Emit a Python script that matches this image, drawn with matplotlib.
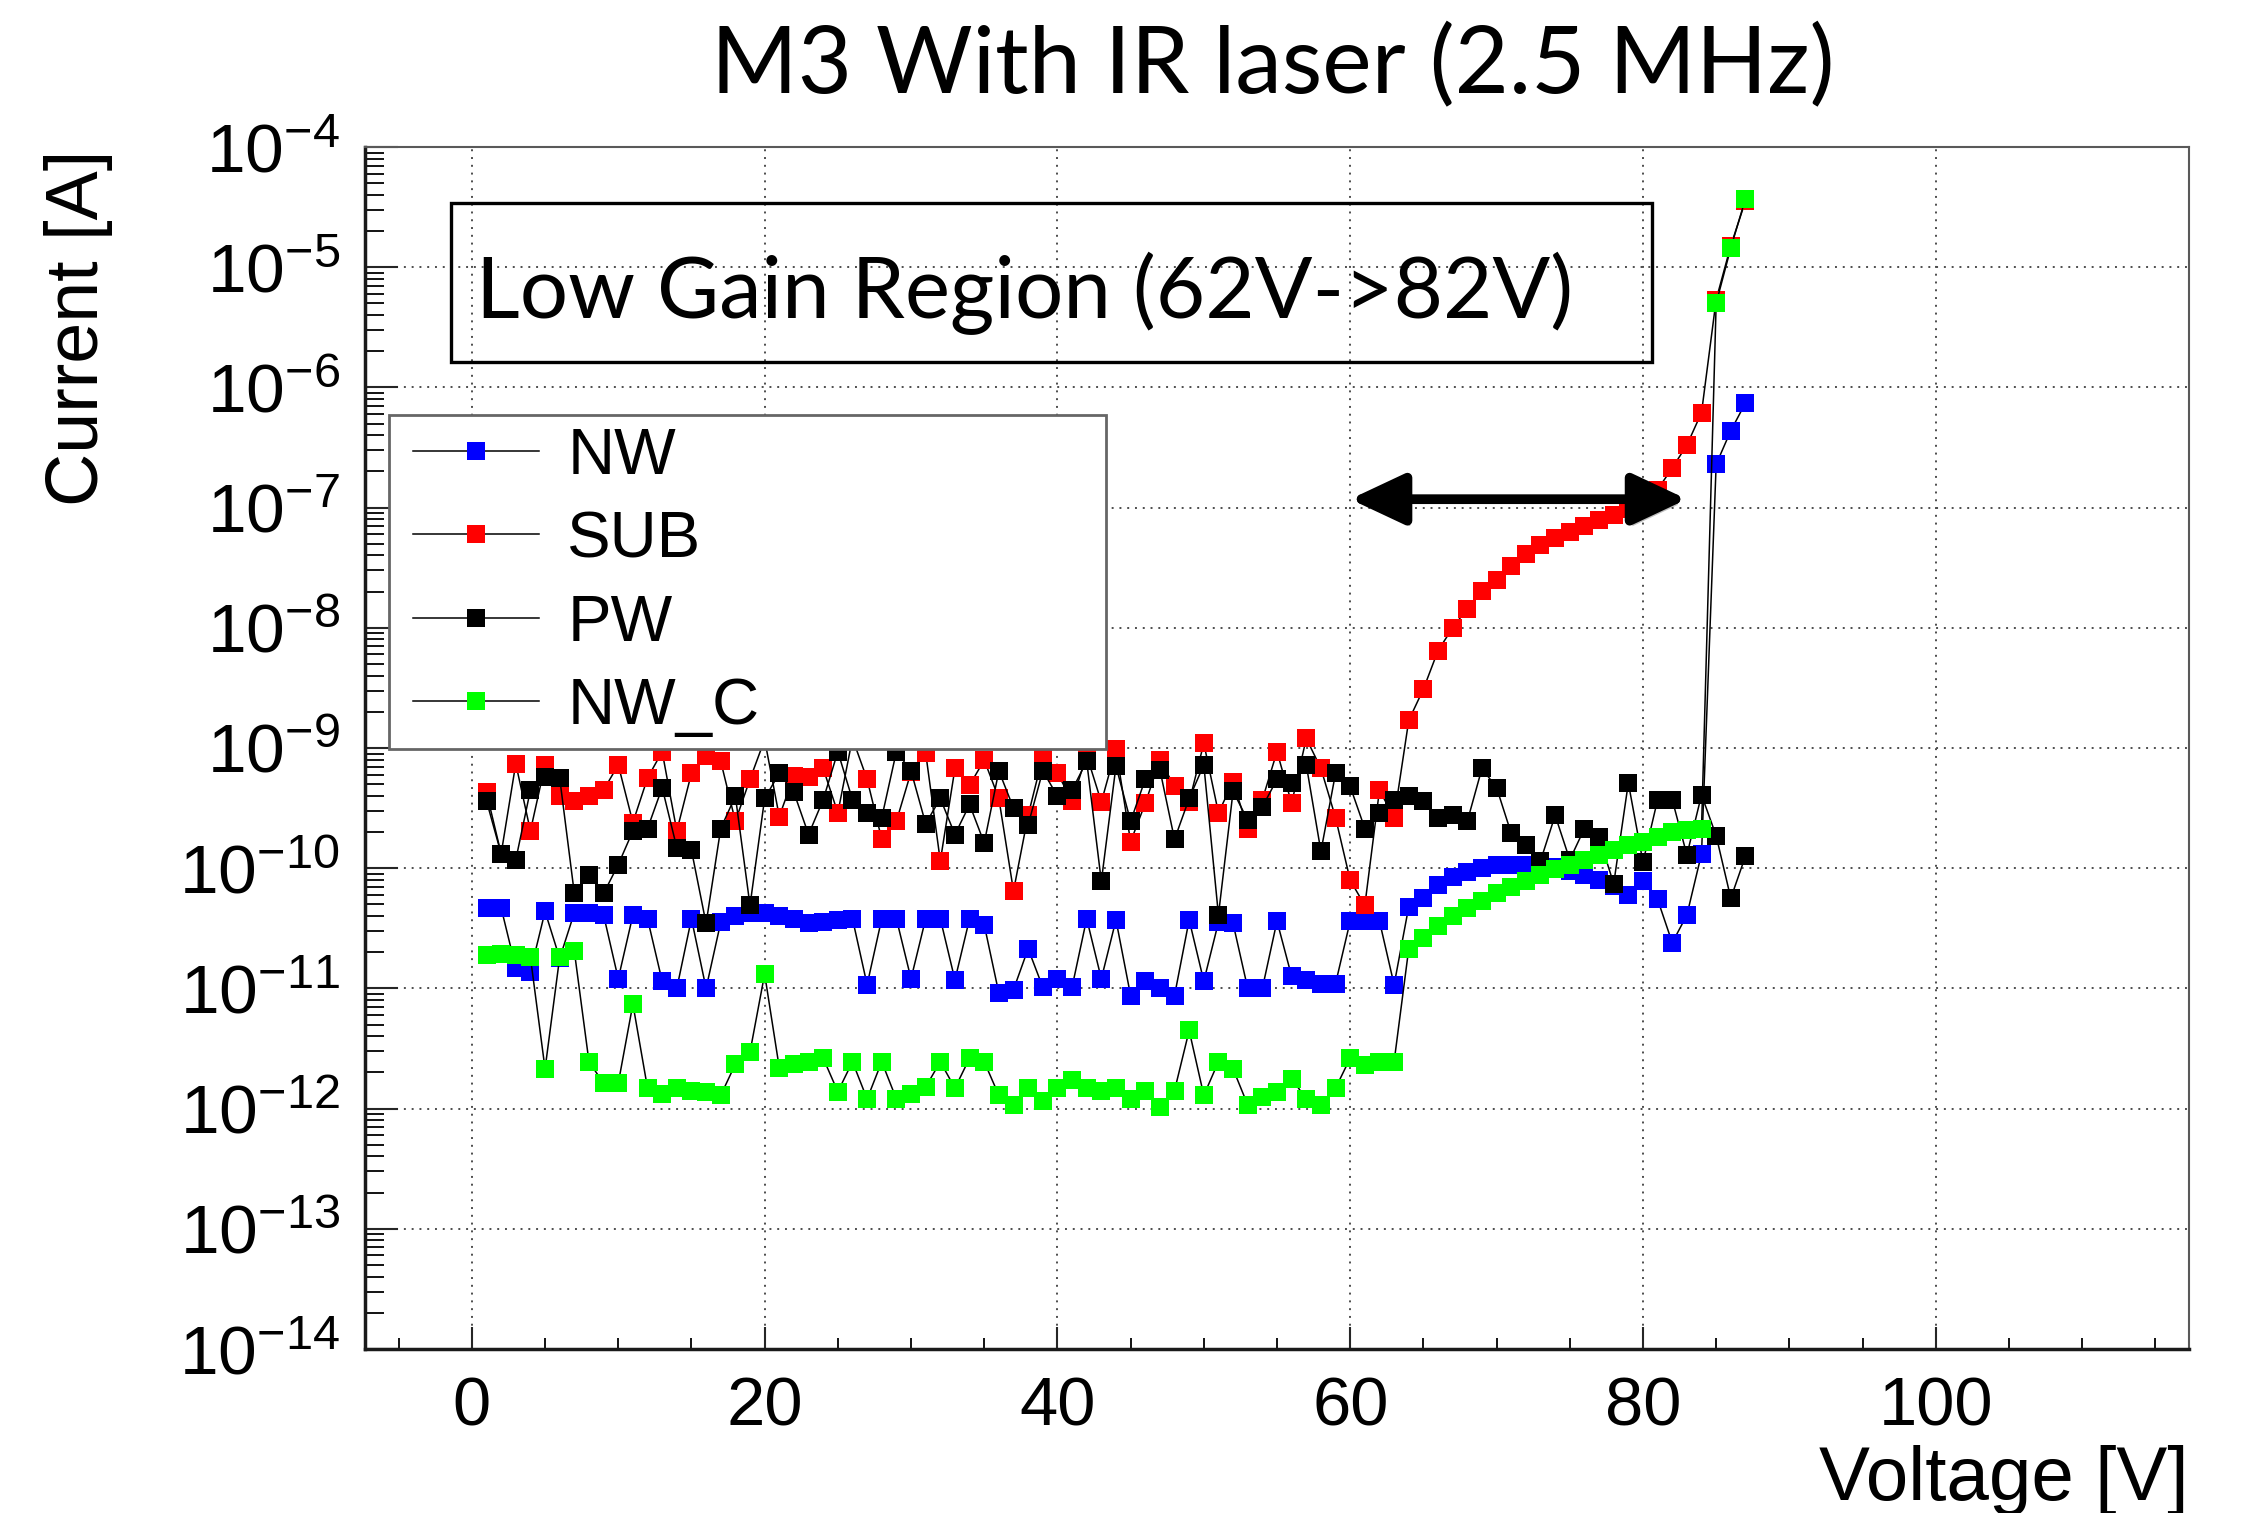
import numpy as np
import matplotlib
matplotlib.use("Agg")
import matplotlib.pyplot as plt
from matplotlib.ticker import LogLocator, FixedLocator, NullFormatter
from matplotlib.patches import Rectangle, FancyArrowPatch
from matplotlib.legend_handler import HandlerLine2D
import matplotlib.patheffects as pe

# bias voltage steps [V]
voltage = list(range(1, 88))

# log10 of current [A] for each channel
nw_log = [
    -10.33, -10.33, -10.83, -10.86, -10.36, -10.75, -10.37, -10.37, -10.39, -10.92,
    -10.39, -10.42, -10.94, -11.00, -10.42, -11.00, -10.45, -10.40, -10.37, -10.37,
    -10.40, -10.42, -10.46, -10.45, -10.43, -10.42, -10.97, -10.42, -10.42, -10.92,
    -10.42, -10.42, -10.93, -10.42, -10.47, -11.04, -11.01, -10.67, -10.99, -10.92,
    -10.99, -10.42, -10.92, -10.43, -11.06, -10.94, -11.00, -11.06, -10.43, -10.94,
    -10.45, -10.46, -11.00, -11.00, -10.44, -10.90, -10.93, -10.96, -10.96, -10.44,
    -10.44, -10.44, -10.97, -10.32, -10.25, -10.14, -10.07, -10.03, -10.00, -9.97,
    -9.97, -9.97, -9.96, -9.99, -10.02, -10.06, -10.10, -10.15, -10.22, -10.11,
    -10.26, -10.62, -10.39, -9.88, -6.64, -6.36, -6.13,
]
sub_log = [
    -9.37, -9.88, -9.13, -9.69, -9.14, -9.40, -9.44, -9.40, -9.35, -9.14,
    -9.62, -9.25, -9.03, -9.69, -9.21, -9.07, -9.11, -9.61, -9.26, -8.93,
    -9.57, -9.23, -9.24, -9.17, -9.54, -8.92, -9.26, -9.76, -9.61, -9.20,
    -9.04, -9.94, -9.17, -9.31, -9.10, -9.42, -10.19, -9.56, -9.07, -9.21,
    -9.44, -9.06, -9.45, -9.01, -9.78, -9.46, -9.10, -9.32, -9.45, -8.96,
    -9.54, -9.28, -9.67, -9.43, -9.03, -9.46, -8.92, -9.17, -9.58, -10.10,
    -10.31, -9.35, -9.58, -8.77, -8.51, -8.19, -8.00, -7.84, -7.69, -7.60,
    -7.49, -7.39, -7.31, -7.25, -7.20, -7.15, -7.10, -7.06, -7.01, -6.97,
    -6.85, -6.67, -6.48, -6.21, -5.27, -4.82, -4.45,
]
pw_log = [
    -9.44, -9.88, -9.93, -9.35, -9.24, -9.25, -10.21, -10.06, -10.21, -9.97,
    -9.69, -9.67, -9.33, -9.83, -9.85, -10.46, -9.67, -9.40, -10.31, -9.42,
    -9.21, -9.37, -9.72, -9.43, -9.03, -9.43, -9.54, -9.58, -9.03, -9.19,
    -9.63, -9.42, -9.72, -9.47, -9.79, -9.19, -9.50, -9.64, -9.19, -9.40,
    -9.35, -9.11, -10.11, -9.15, -9.61, -9.26, -9.18, -9.76, -9.42, -9.14,
    -10.39, -9.36, -9.60, -9.49, -9.26, -9.29, -9.14, -9.86, -9.21, -9.32,
    -9.67, -9.54, -9.43, -9.40, -9.44, -9.58, -9.56, -9.61, -9.17, -9.33,
    -9.71, -9.81, -9.94, -9.56, -9.93, -9.67, -9.74, -10.13, -9.29, -9.95,
    -9.43, -9.43, -9.89, -9.39, -9.73, -10.25, -9.90,
]
nwc_log = [
    -10.72, -10.71, -10.72, -10.74, -11.67, -10.74, -10.69, -11.61, -11.79, -11.79,
    -11.13, -11.83, -11.88, -11.83, -11.85, -11.86, -11.89, -11.63, -11.53, -10.88,
    -11.66, -11.63, -11.61, -11.58, -11.86, -11.61, -11.92, -11.61, -11.92, -11.88,
    -11.82, -11.61, -11.83, -11.58, -11.61, -11.89, -11.97, -11.83, -11.94, -11.83,
    -11.76, -11.83, -11.85, -11.83, -11.92, -11.85, -11.99, -11.85, -11.35, -11.89,
    -11.61, -11.67, -11.97, -11.90, -11.86, -11.75, -11.92, -11.97, -11.83, -11.58,
    -11.64, -11.61, -11.61, -10.67, -10.58, -10.48, -10.40, -10.33, -10.27, -10.21,
    -10.16, -10.11, -10.06, -10.01, -9.97, -9.93, -9.89, -9.85, -9.81, -9.78,
    -9.74, -9.70, -9.68, -9.67, -5.30, -4.84, -4.43,
]

series_names = ["NW", "SUB", "PW", "NW_C"]
series_colors = ["#0000ff", "#ff0000", "#000000", "#00ff00"]

title_text = "M3 With IR laser (2.5 MHz)"
box_text = "Low Gain Region (62V->82V)"
arrow_v = [60, 83]
arrow_level = 10 ** -6.93

plt.rcParams["font.family"] = ["Liberation Sans", "DejaVu Sans"]
plt.rcParams["mathtext.fontset"] = "custom"
plt.rcParams["mathtext.rm"] = "Liberation Sans"
plt.rcParams["mathtext.it"] = "Liberation Sans:italic"

W, H = 2243, 1513
fig = plt.figure(figsize=(W / 100, H / 100), dpi=100)
ax = fig.add_axes([365 / W, 1 - 1349 / H, (2189 - 365) / W, (1349 - 147) / H])

data = [nw_log, sub_log, pw_log, nwc_log]
for name, col, vals in zip(series_names, series_colors, data):
    ax.plot(voltage, 10.0 ** np.array(vals), color="black", lw=1.1,
            marker="s", ms=12.5, mfc=col, mec=col, mew=0, label=name)

ax.set_yscale("log")
ax.set_ylim(1e-14, 1e-4)
ax.set_xlim(-7.3, 117.3)
ax.xaxis.set_major_locator(FixedLocator([0, 20, 40, 60, 80, 100]))
ax.xaxis.set_minor_locator(FixedLocator(np.arange(-5, 117, 5)))
ax.yaxis.set_major_locator(LogLocator(base=10, numticks=20))
ax.yaxis.set_minor_locator(LogLocator(base=10, subs=np.arange(2, 10), numticks=200))
ax.yaxis.set_minor_formatter(NullFormatter())

ax.tick_params(axis="both", which="major", direction="in", width=1.5, color="0.15")
ax.tick_params(axis="x", which="major", length=16, pad=19, labelsize=49.5)
ax.tick_params(axis="y", which="major", length=24, pad=18, labelsize=50)
ax.tick_params(axis="x", which="minor", direction="in", length=8, width=1.3)
ax.tick_params(axis="y", which="minor", direction="in", length=14, width=1.3)

ax.grid(True, which="major", color="0.3", lw=1.4, ls=(0, (1, 3)))
for side in ["left", "bottom"]:
    ax.spines[side].set_linewidth(2.5)
    ax.spines[side].set_color("0.1")
for side in ["top", "right"]:
    ax.spines[side].set_linewidth(1.5)
    ax.spines[side].set_color("0.35")

leg = ax.legend(loc="upper left", bbox_to_anchor=(0.0132, 0.5008, 0.3931, 0.2762),
                mode="expand", borderaxespad=0, fontsize=47, numpoints=1,
                handlelength=2.12, handletextpad=0.43, labelspacing=0.36,
                borderpad=0.18, fancybox=False, framealpha=1,
                handler_map={plt.Line2D: HandlerLine2D(xpad=0.19)})
leg.get_frame().set_edgecolor("0.4")
leg.get_frame().set_linewidth(2)

# double arrow marking the low gain region
arr = FancyArrowPatch((arrow_v[0], arrow_level), (arrow_v[1], arrow_level),
                      arrowstyle="<|-|>,head_length=33,head_width=15.5",
                      mutation_scale=1, lw=7, color="black",
                      shrinkA=0, shrinkB=0, zorder=5)
arr.set_path_effects([pe.SimplePatchShadow(offset=(2, -4), alpha=0.25), pe.Normal()])
ax.add_patch(arr)

# annotation box
fig.patches.append(Rectangle((451 / W, 1 - 362 / H), (1652 - 451) / W, (362 - 203) / H,
                             transform=fig.transFigure, fill=False, lw=2.4,
                             edgecolor="black", zorder=6))
t_box = fig.text(476 / W, 1 - 318 / H, box_text, fontsize=60, family="Lato",
                 ha="left", va="baseline", zorder=7)
t_title = fig.text(1273 / W, 1 - 93 / H, title_text, fontsize=70, family="Lato",
                   ha="center", va="baseline")

fig.text(79 / W, 1 - 150 / H, "Current [A]", rotation=90, fontsize=53,
         ha="center", va="top")
fig.text(2189 / W, 1 - 1445 / H, "Voltage [V]", fontsize=55, ha="right", va="top")

# fit the two Calibri-like texts to their measured widths
r = fig.canvas.get_renderer()
for t, target in [(t_box, 1097), (t_title, 1124)]:
    w = t.get_window_extent(r).width
    t.set_fontsize(t.get_fontsize() * target / w)

fig.savefig("out.png", dpi=100)
